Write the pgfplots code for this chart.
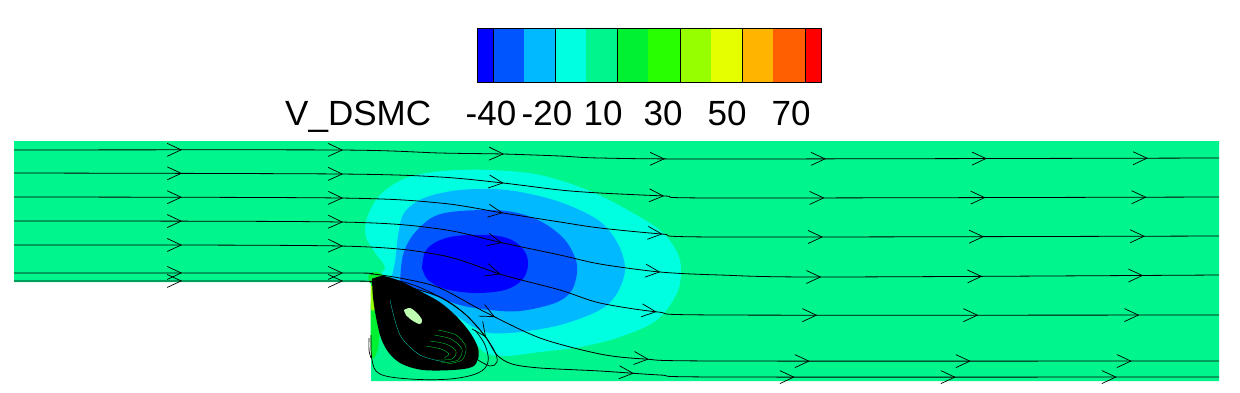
\documentclass[border=0pt]{standalone}
\usepackage{fontspec}
\setmainfont{Liberation Sans}
\usepackage{pgfplots}
\pgfplotsset{compat=1.18}
\usetikzlibrary{arrows.meta,decorations.markings}
% Tecplot-like contour levels
\definecolor{cb1}{RGB}{0,0,255}
\definecolor{cb2}{RGB}{0,85,255}
\definecolor{cb3}{RGB}{0,185,255}
\definecolor{cb4}{RGB}{0,255,225}
\definecolor{cb5}{RGB}{0,245,140}
\definecolor{cb6}{RGB}{0,240,50}
\definecolor{cb7}{RGB}{40,255,0}
\definecolor{cb8}{RGB}{150,255,0}
\definecolor{cb9}{RGB}{230,255,0}
\definecolor{cb10}{RGB}{255,180,0}
\definecolor{cb11}{RGB}{255,95,0}
\definecolor{cb12}{RGB}{255,0,0}
\pgfplotsset{
  stream/.style={black, line width=0.8pt, smooth, tension=0.5,
    postaction={decorate},
    decoration={markings, mark=between positions 168pt and 1 step 161pt with
      {\arrow{Straight Barb[length=14pt,width=13pt,line width=0.7pt]}}}},
  loop/.style={black, line width=0.7pt, smooth, tension=0.6},
  band/.style={draw=none, smooth, tension=0.55},
}
\tikzset{lbl/.style={anchor=base, inner sep=0pt, font=\fontsize{35}{41}\selectfont}}
\begin{document}
\begin{tikzpicture}
\begin{axis}[
    scale only axis, width=1240pt, height=392pt,
    xmin=0, xmax=1240, ymin=0, ymax=392, y dir=reverse,
    hide axis, clip=false,
]
\path (rel axis cs:0,0) rectangle (rel axis cs:1,1);

% colour bar
\addplot[fill=cb1,draw=none]  coordinates {(477,28)(493,28)(493,82)(477,82)} -- cycle;
\addplot[fill=cb2,draw=none]  coordinates {(493,28)(524,28)(524,82)(493,82)} -- cycle;
\addplot[fill=cb3,draw=none]  coordinates {(524,28)(555,28)(555,82)(524,82)} -- cycle;
\addplot[fill=cb4,draw=none]  coordinates {(555,28)(586,28)(586,82)(555,82)} -- cycle;
\addplot[fill=cb5,draw=none]  coordinates {(586,28)(617,28)(617,82)(586,82)} -- cycle;
\addplot[fill=cb6,draw=none]  coordinates {(617,28)(648,28)(648,82)(617,82)} -- cycle;
\addplot[fill=cb7,draw=none]  coordinates {(648,28)(680,28)(680,82)(648,82)} -- cycle;
\addplot[fill=cb8,draw=none]  coordinates {(680,28)(711,28)(711,82)(680,82)} -- cycle;
\addplot[fill=cb9,draw=none]  coordinates {(711,28)(742,28)(742,82)(711,82)} -- cycle;
\addplot[fill=cb10,draw=none] coordinates {(742,28)(773,28)(773,82)(742,82)} -- cycle;
\addplot[fill=cb11,draw=none] coordinates {(773,28)(805,28)(805,82)(773,82)} -- cycle;
\addplot[fill=cb12,draw=none] coordinates {(805,28)(821,28)(821,82)(805,82)} -- cycle;
\addplot[black,line width=0.8pt] coordinates {(477,28)(821,28)(821,82)(477,82)} -- cycle;
\addplot[black,line width=0.8pt] coordinates {(493,28)(493,82)};
\addplot[black,line width=0.8pt] coordinates {(555,28)(555,82)};
\addplot[black,line width=0.8pt] coordinates {(617,28)(617,82)};
\addplot[black,line width=0.8pt] coordinates {(680,28)(680,82)};
\addplot[black,line width=0.8pt] coordinates {(742,28)(742,82)};
\addplot[black,line width=0.8pt] coordinates {(805,28)(805,82)};

\node[lbl, anchor=base west] at (axis cs:285,125) {V\_DSMC};
\node[lbl] at (axis cs:491,125) {-40};
\node[lbl] at (axis cs:547,125) {-20};
\node[lbl] at (axis cs:603,125) {10};
\node[lbl] at (axis cs:663,125) {30};
\node[lbl] at (axis cs:727,125) {50};
\node[lbl] at (axis cs:791,125) {70};

% flow domain (backward-facing step)
\addplot[fill=cb5,draw=none] coordinates {(14,141)(1219,141)(1219,381)(371,381)(371,282)(14,282)} -- cycle;

% contour bands of V
\addplot[band,fill=cb4] coordinates {
  (372,281)(385,268)(376,254)(366,237)(367,218)(380,195)(406,178)(442,171)(490,170)
  (540,175)(590,191)(633,213)(662,232)(677,252)(681,270)(677,293)(657,320)(620,337)
  (580,347)(540,352)(505,356)(484,352)(470,335)(440,305)(405,286)(372,281)} -- cycle;
\addplot[band,fill=cb3] coordinates {
  (390,283)(395,262)(398,236)(404,213)(424,198)(460,190)(507,190)(557,201)(598,220)
  (618,244)(625,270)(616,295)(598,311)(560,325)(520,332)(490,333)(470,325)(440,304)
  (410,289)(390,283)} -- cycle;
\addplot[band,fill=cb2] coordinates {
  (400,282)(403,255)(413,235)(433,217)(460,211)(507,211)(540,221)(565,240)(577,265)
  (572,290)(555,303)(520,311)(490,310)(460,305)(430,294)(400,282)} -- cycle;
\addplot[band,fill=cb1] coordinates {
  (422,268)(425,252)(436,242)(456,236)(490,235)(512,240)(525,252)(528,266)(522,280)
  (505,290)(475,293)(445,289)(428,280)(422,268)} -- cycle;

% green spots at the step face
\addplot[band,fill=cb6] coordinates {(368,276)(376,272)(384,276)(380,283)(371,284)(368,276)} -- cycle;
\addplot[band,fill=cb6] coordinates {(371,283)(379,286)(381,305)(380,330)(377,352)(371,354)(371,283)} -- cycle;
\addplot[band,fill=cb8] coordinates {(371,286)(376,288)(377,300)(374,310)(371,308)(371,286)} -- cycle;

% recirculation vortex (dense closed streamlines)
\addplot[band,fill=black] coordinates {
  (372,279)(383,276)(400,281)(420,291)(441,303)(458,318)(471,334)(478,348)(478,359)
  (472,367)(453,370)(423,370)(402,364)(389,353)(381,338)(376,317)(373,297)(372,279)} -- cycle;
\addplot[band,fill=cb7!30!white] coordinates {
  (404,310)(410,308)(417,313)(422,320)(420,324)(413,321)(406,315)(404,310)} -- cycle;
\addplot[cb6,line width=0.3pt,smooth] coordinates {(430,341)(446,344)(456,351)(452,359)(436,360)};
\addplot[cb6,line width=0.3pt,smooth] coordinates {(434,335)(451,339)(462,349)(458,360)(441,363)};
\addplot[cb6,line width=0.3pt,smooth] coordinates {(438,330)(456,335)(466,347)(462,360)(447,364)};
\addplot[cb6,line width=0.3pt,smooth] coordinates {(426,346)(441,349)(449,354)(444,358)};
\addplot[cb4,line width=0.25pt,smooth] coordinates {(390,300)(400,335)(420,355)(445,362)};

% streamlines
\addplot[stream] coordinates {(14,150)(340,150)(440,153)(503,154)(560,156)(600,158)(720,159)(1219,158)};
\addplot[stream] coordinates {(14,173)(340,174)(440,177)(503,183)(560,190)(600,193)(665,196)(720,198)(1219,197)};
\addplot[stream] coordinates {(14,197)(340,198)(440,203)(503,213)(560,222)(600,228)(662,234)(720,237)(1219,236)};
\addplot[stream] coordinates {(14,221)(340,222)(440,229)(503,243)(560,255)(600,264)(660,272)(720,275)(822,277)(1219,275)};
\addplot[stream] coordinates {(14,245)(340,246)(440,255)(503,275)(560,290)(600,303)(658,312)(720,315)(1219,315)};
\addplot[stream] coordinates {(14,273)(340,273)(372,274)(405,279)(440,288)(485,312)(540,338)(600,354)(645,359)(720,361)(1219,361)};
\addplot[stream] coordinates {(14,281)(340,281)(372,282)(400,285)(440,297)(465,314)(485,336)(497,355)(512,364)(540,368)(600,371)(660,375)(720,377)(1219,377)};

% loops round the vortex
\addplot[loop] coordinates {(372,279)(400,281)(430,292)(460,310)(480,330)(494,350)(497,362)(490,366)(478,360)};
\addplot[loop] coordinates {(371,335)(372,360)(380,374)(410,379)(450,379)(478,373)(488,362)(485,345)(475,330)};
\addplot[loop] coordinates {(369,338)(369,350)(371,358)};
\end{axis}
\end{tikzpicture}
\end{document}
